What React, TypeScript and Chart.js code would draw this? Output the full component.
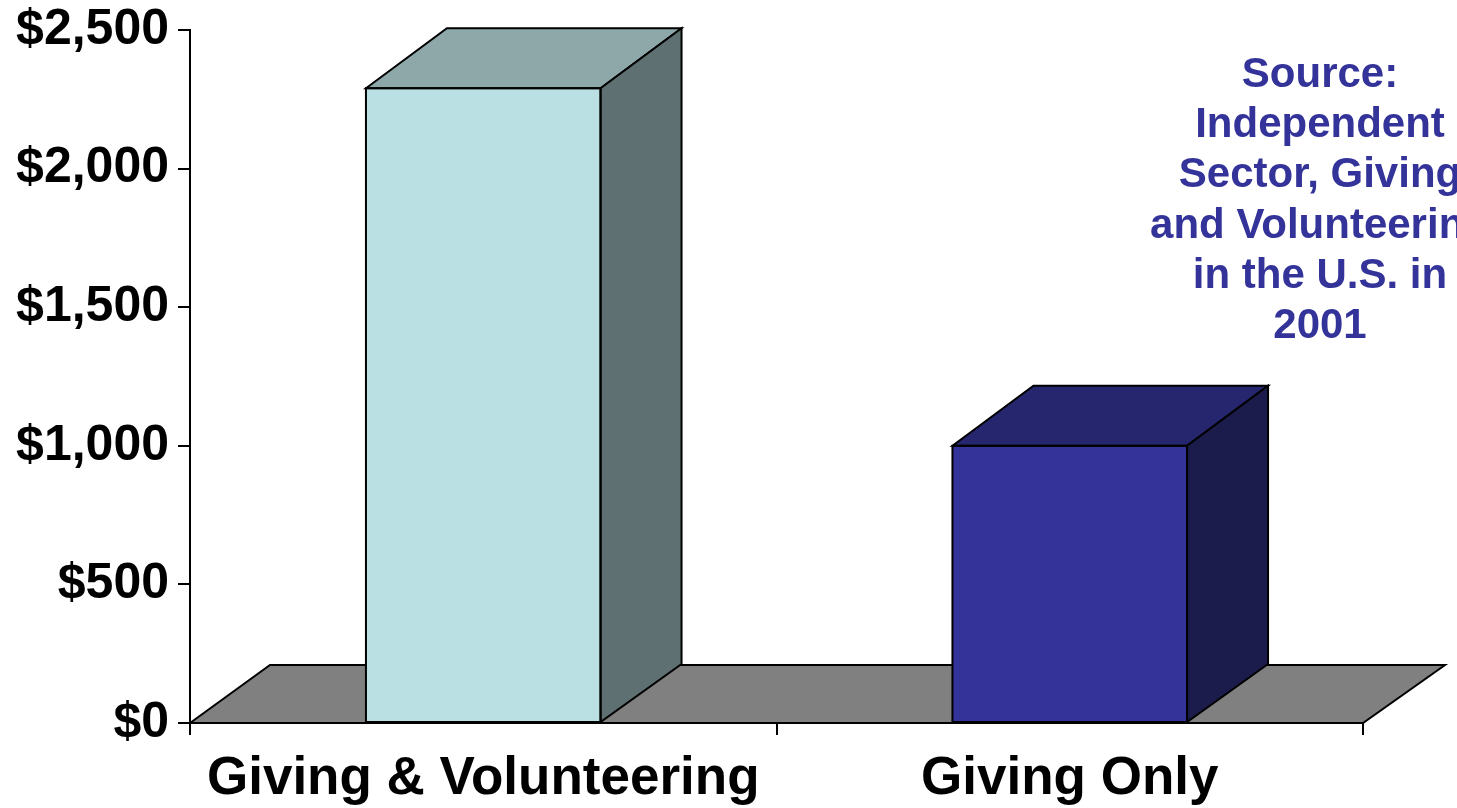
import React, { useEffect, useRef } from "react";
import { Chart, registerables } from "chart.js";

Chart.register(...registerables);

// Average household contributions, 2001
const categories = ["Giving & Volunteering", "Giving Only"];
const contributions = [2290, 1000];
const yTicks = [0, 500, 1000, 1500, 2000, 2500];
const sourceLines = [
  "Source:",
  "Independent",
  "Sector, Giving",
  "and Volunteering",
  "in the U.S. in",
  "2001",
];

const frontColors = ["#BBE0E3", "#333399"];
const topColors = ["#8EA8AA", "#26266F"];
const sideColors = ["#5E7072", "#1C1C4C"];

const W = 1457;
const H = 808;
const FONT = "'Liberation Sans', Arial, Helvetica, sans-serif";

const BAR_DX = 81;
const BAR_DY = 60;
const FLOOR_DX = 80;
const FLOOR_DY = 58;

const fmtDollar = (v: number) => "$" + v.toLocaleString("en-US");

const floorPlugin = {
  id: "floor3d",
  beforeDatasetsDraw(chart: any) {
    const { ctx, chartArea } = chart;
    const { left, right, bottom } = chartArea;
    ctx.save();
    ctx.beginPath();
    ctx.moveTo(left, bottom);
    ctx.lineTo(left + FLOOR_DX, bottom - FLOOR_DY);
    ctx.lineTo(right + FLOOR_DX + 2, bottom - FLOOR_DY);
    ctx.lineTo(right, bottom);
    ctx.closePath();
    ctx.fillStyle = "#808080";
    ctx.fill();
    ctx.lineWidth = 2;
    ctx.strokeStyle = "#000";
    ctx.lineJoin = "miter";
    ctx.stroke();
    ctx.restore();
  },
};

const bar3dPlugin = {
  id: "bar3d",
  afterDatasetsDraw(chart: any) {
    const { ctx } = chart;
    const meta = chart.getDatasetMeta(0);
    ctx.save();
    ctx.lineWidth = 2;
    ctx.strokeStyle = "#000";
    ctx.lineJoin = "miter";
    meta.data.forEach((bar: any, i: number) => {
      const { x, y, base, width } = bar.getProps(["x", "y", "base", "width"], true);
      const l = x - width / 2;
      const r = x + width / 2;
      // top face
      ctx.beginPath();
      ctx.moveTo(l, y);
      ctx.lineTo(l + BAR_DX, y - BAR_DY);
      ctx.lineTo(r + BAR_DX, y - BAR_DY);
      ctx.lineTo(r, y);
      ctx.closePath();
      ctx.fillStyle = topColors[i];
      ctx.fill();
      ctx.stroke();
      // right side face
      ctx.beginPath();
      ctx.moveTo(r, y);
      ctx.lineTo(r + BAR_DX, y - BAR_DY);
      ctx.lineTo(r + BAR_DX, base - FLOOR_DY);
      ctx.lineTo(r, base);
      ctx.closePath();
      ctx.fillStyle = sideColors[i];
      ctx.fill();
      ctx.stroke();
      // front outline
      ctx.strokeRect(l, y, width, base - y);
    });
    ctx.restore();
  },
};

const sourcePlugin = {
  id: "sourceNote",
  afterDraw(chart: any) {
    const { ctx } = chart;
    ctx.save();
    ctx.font = `bold 42px ${FONT}`;
    ctx.fillStyle = "#333399";
    ctx.textAlign = "center";
    ctx.textBaseline = "alphabetic";
    sourceLines.forEach((line, i) => {
      ctx.fillText(line, 1320, 87 + i * 50.2);
    });
    ctx.restore();
  },
};

export default function App() {
  const canvasRef = useRef<HTMLCanvasElement | null>(null);

  useEffect(() => {
    const canvas = canvasRef.current;
    if (!canvas) return;
    const chart = new Chart(canvas, {
      type: "bar",
      data: {
        labels: categories,
        datasets: [
          {
            data: contributions,
            backgroundColor: frontColors,
            borderColor: "#000",
            borderWidth: 0,
            barPercentage: 0.4,
            categoryPercentage: 1,
          },
        ],
      },
      options: {
        responsive: false,
        animation: false,
        devicePixelRatio: 1,
        layout: { padding: { top: 30, right: 94, left: 0, bottom: 0 } },
        plugins: {
          legend: { display: false },
          tooltip: { enabled: false },
          title: { display: false },
        },
        scales: {
          x: {
            type: "category",
            offset: true,
            afterFit(scale: any) {
              scale.height = 85;
              scale.paddingLeft = 0;
              scale.paddingRight = 0;
            },
            grid: {
              display: true,
              offset: true,
              drawOnChartArea: false,
              drawTicks: true,
              tickLength: 12,
              color: "#000",
              lineWidth: 2,
            },
            border: { display: true, color: "#000", width: 2 },
            ticks: {
              color: "#000",
              padding: 13,
              maxRotation: 0,
              autoSkip: false,
              font: { family: FONT, size: 53, weight: "bold", lineHeight: 1.2 },
            },
          },
          y: {
            min: 0,
            max: 2500,
            afterFit(scale: any) {
              scale.width = 190;
              scale.paddingTop = 0;
              scale.paddingBottom = 0;
            },
            afterBuildTicks(scale: any) {
              scale.ticks = yTicks.map((v) => ({ value: v }));
            },
            grid: {
              display: true,
              drawOnChartArea: false,
              drawTicks: true,
              tickLength: 12,
              color: "#000",
              lineWidth: 2,
            },
            border: { display: true, color: "#000", width: 2 },
            ticks: {
              color: "#000",
              padding: 9,
              callback: (v: any) => fmtDollar(Number(v)),
              font: { family: FONT, size: 50, weight: "bold" },
            },
          },
        },
      },
      plugins: [floorPlugin, bar3dPlugin, sourcePlugin],
    });
    return () => chart.destroy();
  }, []);

  return (
    <div style={{ position: "fixed", left: 0, top: 0, width: W, height: H, background: "#fff" }}>
      <canvas ref={canvasRef} width={W} height={H} style={{ width: W, height: H, display: "block" }} />
    </div>
  );
}
